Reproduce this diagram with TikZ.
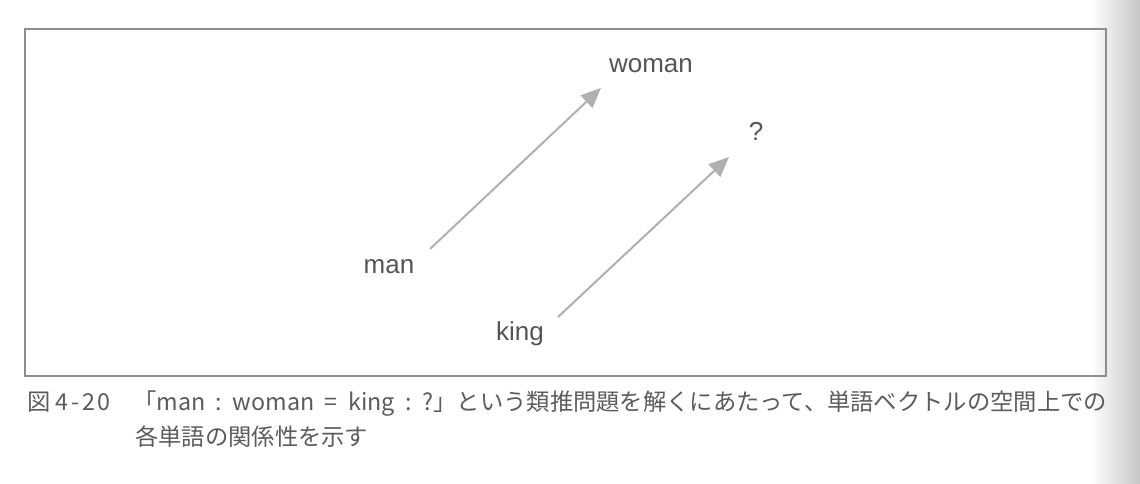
\documentclass[tikz,border=0pt]{standalone}
\usepackage{fontspec}
\setmainfont{Liberation Sans}
\newfontfamily\jpfont{Noto Sans CJK JP}
\usetikzlibrary{arrows.meta}
\definecolor{labelgray}{HTML}{555555}
\definecolor{capgray}{HTML}{5C5C5C}
\definecolor{arrowgray}{HTML}{B0B0B0}
\definecolor{framegray}{HTML}{8E8E8E}
\newcommand{\capsp}{\hspace{10.5pt}}
\tikzset{
  word/.style={anchor=base, inner sep=0pt, text=labelgray, font=\fontsize{26}{30}\selectfont},
  vecarrow/.style={draw=arrowgray, line width=2pt, -{Triangle[length=20pt,width=17pt]}},
  caption/.style={anchor=base west, inner sep=0pt, text=capgray, font=\jpfont\fontsize{23.3}{26}\selectfont},
  framebox/.style={draw=framegray, line width=1.3pt}
}
\begin{document}
\begin{tikzpicture}[x=1pt,y=-1pt]
\useasboundingbox (0,0) rectangle (1140,484);
\fill[white] (0,0) rectangle (1140,484);
\shade[left color=white, right color=black!22] (1090,0) rectangle (1140,484);
\draw[framebox] (25,29) rectangle (1106,376);
% words
\node[word] (woman) at (651,73) {woman};
\node[word] (q) at (756,140) {?};
\node[word] (man) at (389,273) {man};
\node[word] (king) at (520,340) {king};
% connector ends
\coordinate (mantail) at (430,249);
\coordinate (womantip) at (601,88);
\coordinate (kingtail) at (558,317);
\coordinate (qtip) at (729,157);
\draw[vecarrow] (mantail) -- (womantip);
\draw[vecarrow] (kingtail) -- (qtip);
% caption
\node[caption] (capnum) at (27,410) {図\hspace{5pt}4\hspace{3pt}-\hspace{3pt}2\hspace{2pt}0};
\node[caption] (capl1) at (133,410) {「man\capsp:\capsp woman\capsp=\capsp king\capsp:\capsp?」という類推問題を解くにあたって、単語ベクトルの空間上での};
\node[caption] (capl2) at (135,445) {各単語の関係性を示す};
\end{tikzpicture}
\end{document}
